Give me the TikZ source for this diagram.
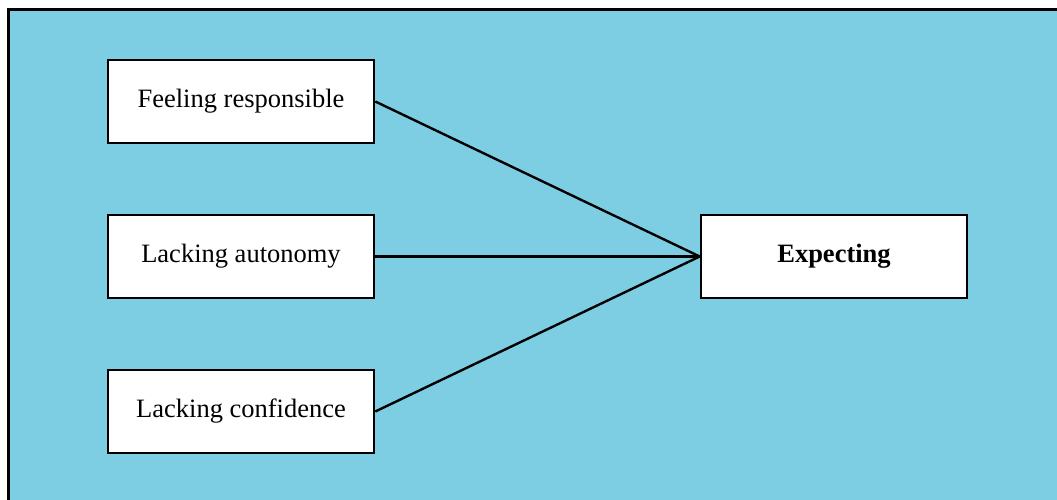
\documentclass[tikz,border=0pt]{standalone}
\usepackage{fontspec}
\setmainfont{Liberation Serif}
\definecolor{panelblue}{RGB}{125,206,227}
\begin{document}
\begin{tikzpicture}[x=1pt,y=-1pt,
  factor/.style={draw=black,line width=2.6pt,fill=white,minimum width=266pt,minimum height=83pt,inner sep=0pt,font=\fontsize{26.5}{30}\selectfont},
  link/.style={line width=2.4pt,draw=black}]
  \useasboundingbox (0,0) rectangle (1057,500);
  % panel background, open at the right and bottom
  \fill[panelblue] (8.5,9.5) rectangle (1057,500);
  \draw[line width=3pt] (8.5,500) -- (8.5,9.5) -- (1057,9.5);
  % causes
  \node[factor] (resp) at (241,101.5) {Feeling responsible};
  \node[factor] (auto) at (241,256.5) {Lacking autonomy};
  \node[factor] (conf) at (241,411.5) {Lacking confidence};
  % outcome
  \node[factor,font=\fontsize{26.5}{30}\selectfont\bfseries] (expect) at (834,256.5) {Expecting};
  % connectors
  \draw[link] (resp.east) -- (expect.west);
  \draw[link] (auto.east) -- (expect.west);
  \draw[link] (conf.east) -- (expect.west);
\end{tikzpicture}
\end{document}
